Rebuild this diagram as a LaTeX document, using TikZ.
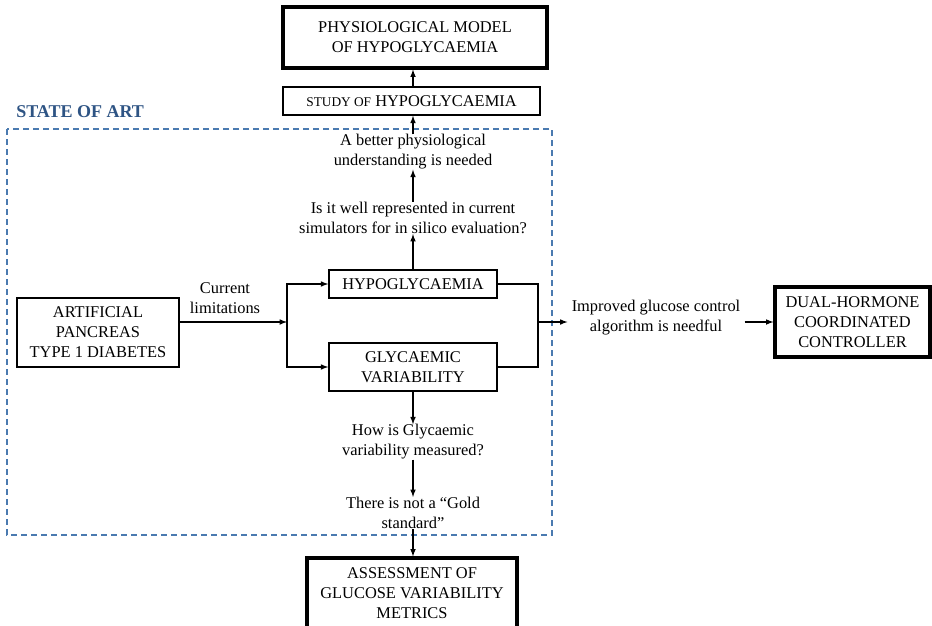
\documentclass[tikz,border=0pt]{standalone}
\usepackage{fontspec}
\setmainfont{Liberation Serif}
\usetikzlibrary{calc,arrows}
\definecolor{artblue}{RGB}{46,84,132}
\definecolor{dashblue}{RGB}{74,122,176}
\tikzset{
  box/.style={draw, line width=1.1pt, align=center, inner sep=0pt},
  bigbox/.style={box, line width=2.4pt},
  txt/.style={align=center, inner sep=0pt},
  arr/.style={-latex, line width=0.9pt},
}
\begin{document}
\begin{tikzpicture}[x=0.75pt,y=-0.75pt,font=\fontsize{12.3}{15}\selectfont]
        \fill[white] (0,0) rectangle (932,625);
        \clip (0,0) rectangle (932,625);
        % state of art frame
        \draw[dashblue, line width=1pt, dash pattern=on 4.5pt off 3pt] (7,129) rectangle (552,535);
        \node[anchor=west, text=artblue, inner sep=0pt, font=\fontsize{13.5}{16}\selectfont\bfseries] (soa) at (16,112) {STATE OF ART};

        \node[bigbox, minimum width=198pt, minimum height=45.75pt] (model) at (415,37.5) {PHYSIOLOGICAL MODEL\\OF HYPOGLYCAEMIA};
        \node[box, minimum width=192.75pt, minimum height=21pt] (study) at (411.5,101) {{\fontsize{10}{12}\selectfont STUDY OF} HYPOGLYCAEMIA};
        \node[txt] (better) at (413,152) {A better physiological\\understanding is needed};
        \node[txt] (question) at (413,218) {Is it well represented in current\\simulators for in silico evaluation?};
        \node[box, minimum width=126pt, minimum height=21pt] (hypo) at (413,284) {HYPOGLYCAEMIA};
        \node[box, minimum width=126pt, minimum height=36pt] (glyc) at (413,367) {GLYCAEMIC\\VARIABILITY};
        \node[box, minimum width=121.5pt, minimum height=51.75pt] (ap) at (98,332.5) {ARTIFICIAL\\PANCREAS\\TYPE 1 DIABETES};
        \node[txt] (curlim) at (225,298) {Current\\limitations};
        \node[txt] (improved) at (656,318) {Improved glucose control\\algorithm is needful};
        \node[bigbox, minimum width=116.25pt, minimum height=52.5pt] (dual) at (852.5,322) {DUAL-HORMONE\\COORDINATED\\CONTROLLER};
        \node[txt] (how) at (413,442) {How is Glycaemic\\variability measured?};
        \node[txt] (notgold) at (413,513) {There is not a ``Gold\\standard''};
        \node[bigbox, minimum width=157.5pt, minimum height=52.5pt] (assess) at (412,593) {ASSESSMENT OF\\GLUCOSE VARIABILITY\\METRICS};

        \coordinate (split) at (287,322);
        \coordinate (merge) at (538,322);

        \draw[arr] (better.north |- study.north) -- (better.north |- model.south);
        \draw[arr] (better.north) -- (better.north |- study.south);
        \draw[arr] (question.north) -- (better.south);
        \draw[arr] (hypo.north) -- (question.south);
        \draw[arr] (ap.east |- split) -- (split);
        \draw[arr] (split) |- (hypo.west);
        \draw[arr] (split) |- (glyc.west);
        \draw[line width=0.9pt] (hypo.east) -| (merge) |- (glyc.east);
        \draw[arr, shorten >=3pt] (merge) -- (improved.west |- merge);
        \draw[arr, shorten <=3pt] (improved.east |- dual) -- (dual.west);
        \draw[arr] (glyc.south) -- (how.north);
        \draw[arr] (how.south) -- (notgold.north);
        \draw[arr] (notgold.south) -- (notgold.south |- assess.north);
    \end{tikzpicture}
\end{document}
